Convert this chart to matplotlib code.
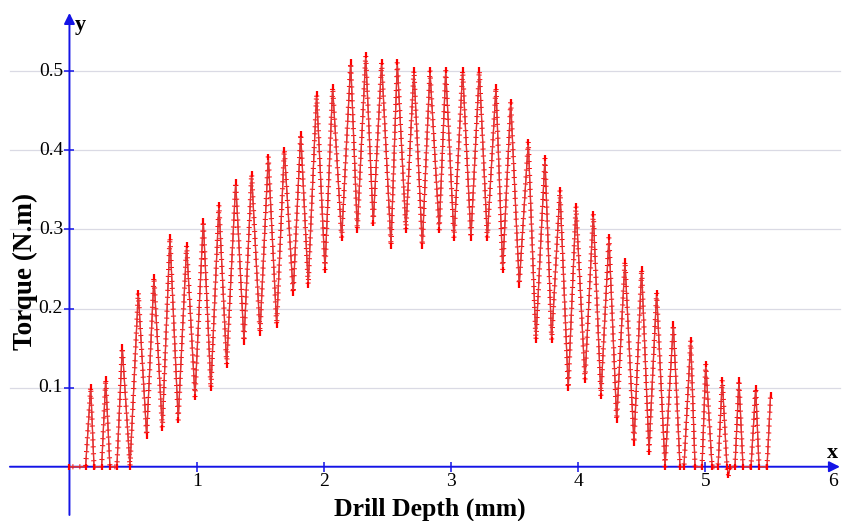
"""Torque vs drill depth (oscillating signal), recreated with matplotlib."""

import matplotlib
matplotlib.use("Agg")
import matplotlib.pyplot as plt
import matplotlib.patheffects as pe

plt.rcParams["font.family"] = ["Liberation Serif", "DejaVu Serif"]

# Peaks and troughs (depth in mm, torque in N.m)
depth_mm = [
    0.000, 0.127, 0.167, 0.193, 0.253, 0.285, 0.318, 0.373, 0.415, 0.476,
    0.541, 0.607, 0.664, 0.730, 0.790, 0.855, 0.921, 0.987, 1.052, 1.112,
    1.175, 1.236, 1.307, 1.372, 1.432, 1.498, 1.563, 1.629, 1.689, 1.759,
    1.818, 1.877, 1.943, 2.009, 2.069, 2.140, 2.211, 2.263, 2.329, 2.388,
    2.454, 2.528, 2.577, 2.645, 2.708, 2.774, 2.834, 2.907, 2.958, 3.023,
    3.091, 3.156, 3.222, 3.285, 3.353, 3.406, 3.469, 3.536, 3.607, 3.667,
    3.738, 3.791, 3.856, 3.921, 3.982, 4.053, 4.118, 4.178, 4.241, 4.302,
    4.367, 4.438, 4.498, 4.556, 4.616, 4.682, 4.747, 4.800, 4.831, 4.884,
    4.918, 4.973, 5.002, 5.052, 5.099, 5.132, 5.169, 5.180, 5.195, 5.232,
    5.263, 5.295, 5.358, 5.395, 5.421, 5.484, 5.512,
]
torque_nm = [
    0.000, 0.000, 0.101, 0.000, 0.000, 0.111, 0.000, 0.000, 0.151, 0.000,
    0.220, 0.039, 0.240, 0.049, 0.290, 0.059, 0.280, 0.088, 0.311, 0.099,
    0.331, 0.129, 0.360, 0.158, 0.370, 0.169, 0.392, 0.179, 0.401, 0.219,
    0.421, 0.230, 0.471, 0.249, 0.480, 0.289, 0.511, 0.299, 0.520, 0.308,
    0.511, 0.279, 0.511, 0.299, 0.501, 0.279, 0.501, 0.299, 0.501, 0.289,
    0.501, 0.289, 0.501, 0.289, 0.480, 0.249, 0.461, 0.230, 0.411, 0.160,
    0.390, 0.160, 0.350, 0.099, 0.330, 0.110, 0.320, 0.089, 0.290, 0.059,
    0.260, 0.030, 0.250, 0.019, 0.220, 0.000, 0.180, 0.000, 0.000, 0.160,
    0.000, 0.000, 0.130, 0.000, 0.000, 0.110, 0.000, -0.011, 0.000, 0.000,
    0.110, 0.000, 0.000, 0.100, 0.000, 0.000, 0.091,
]

x_ticks = [1, 2, 3, 4, 5]
x_labels = ["1", "2", "3", "4", "5", "6"]
y_ticks = [0.1, 0.2, 0.3, 0.4, 0.5]
y_labels = ["0.1", "0.2", "0.3", "0.4", "0.5"]

AXIS_BLUE = "#1414e6"
GRID = "#dadae4"


def main() -> None:
    fig = plt.figure(figsize=(8.44, 5.21), dpi=100)
    ax = fig.add_axes([0, 0, 1, 1])
    ax.set_xlim(-0.546, 6.089)
    ax.set_ylim(-0.0686, 0.590)
    ax.set_axis_off()

    # grid
    for v in y_ticks:
        ax.plot([-0.468, 6.057], [v, v], color=GRID, lw=0.9, zorder=1)

    # axes with arrow heads
    arrow = dict(arrowstyle="-|>", color=AXIS_BLUE, lw=1.4,
                 mutation_scale=16, shrinkA=0, shrinkB=0)
    ax.annotate("", xy=(6.057, 0), xytext=(-0.468, 0), arrowprops=arrow, zorder=2)
    ax.annotate("", xy=(0, 0.5736), xytext=(0, -0.061), arrowprops=arrow, zorder=2)
    ax.plot(x_ticks, [0] * len(x_ticks), ls="none", marker="|", ms=7,
            mew=1.1, color=AXIS_BLUE, zorder=2)
    ax.plot([0] * len(y_ticks), y_ticks, ls="none", marker="_", ms=7,
            mew=1.1, color=AXIS_BLUE, zorder=2)

    # tick labels
    for v, lab in zip(range(1, 7), x_labels):
        ax.text(v, -0.019, lab, ha="center", va="center", fontsize=14)
    for v, lab in zip(y_ticks, y_labels):
        ax.text(-0.05, v, lab, ha="right", va="center", fontsize=14)

    ax.text(5.999, 0.0173, "x", ha="center", va="center",
            fontsize=16, fontweight="bold")
    ax.text(0.083, 0.558, "y", ha="center", va="center",
            fontsize=16, fontweight="bold")
    ax.text(2.834, -0.0535, "Drill Depth (mm)", ha="center", va="center",
            fontsize=18.5, fontweight="bold")
    ax.text(-0.350, 0.247, "Torque (N.m)", ha="center", va="center",
            rotation=90, fontsize=19.5, fontweight="bold")

    # signal: thin line with small cross ticks like the sampled error bars
    ax.plot(depth_mm, torque_nm, color="#e03434", lw=0.9, zorder=3,
            path_effects=[
                pe.withTickedStroke(spacing=5, angle=90, length=0.3,
                                    linewidth=0.7, foreground="red"),
                pe.withTickedStroke(spacing=5, angle=-90, length=0.3,
                                    linewidth=0.7, foreground="red"),
            ])
    ax.plot(depth_mm, torque_nm, ls="none", marker="|", ms=5, mew=1.6,
            color="red", zorder=4)

    fig.savefig("out.png", dpi=100)


if __name__ == "__main__":
    main()
